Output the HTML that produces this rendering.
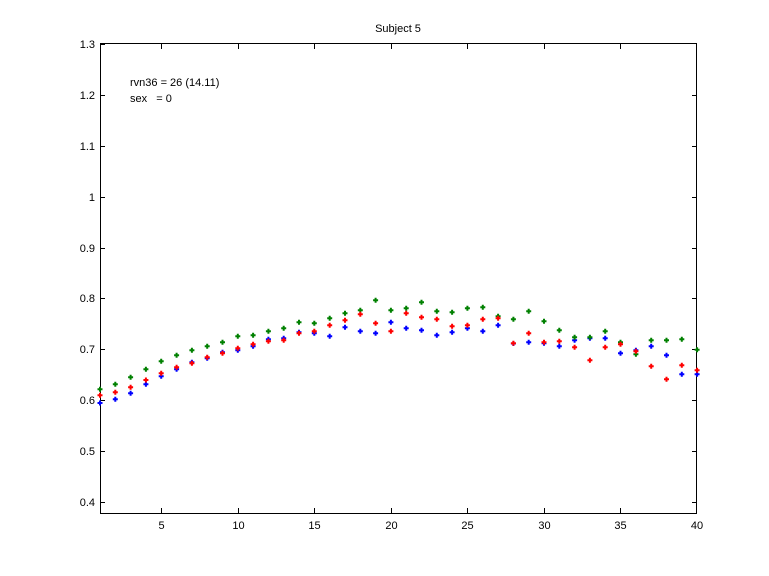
<!DOCTYPE html>
<html><head><style>body{margin:0;background:#fff}svg{display:block}text{font-family:"Liberation Sans",sans-serif;font-size:11px;fill:#000}</style></head><body>
<svg width="769" height="576" xmlns="http://www.w3.org/2000/svg">
<rect width="769" height="576" fill="#fff"/>
<rect x="100.5" y="43.5" width="596" height="470" fill="#fff" stroke="#000" stroke-width="1"/>
<path stroke="#000" stroke-width="1" fill="none" d="M161.5 513v-5M238.5 513v-5M314.5 513v-5M391.5 513v-5M467.5 513v-5M544.5 513v-5M620.5 513v-5M161.5 44v5M238.5 44v5M314.5 44v5M391.5 44v5M467.5 44v5M544.5 44v5M620.5 44v5
M100 502.5h5M100 451.5h5M100 400.5h5M100 349.5h5M100 298.5h5M100 248.5h5M100 197.5h5M100 146.5h5M100 95.5h5M100 44.5h5
M697 502.5h-5M697 451.5h-5M697 400.5h-5M697 349.5h-5M697 298.5h-5M697 248.5h-5M697 197.5h-5M697 146.5h-5M697 95.5h-5"/>
<text x="398" y="32" text-anchor="middle">Subject 5</text>
<text x="130" y="86">rvn36 = 26 (14.11)</text>
<text x="130" y="102">sex&#160;&#160;&#160;= 0</text>
<g text-anchor="middle">
<text x="161.5" y="529">5</text><text x="238.5" y="529">10</text><text x="314.5" y="529">15</text><text x="391.5" y="529">20</text><text x="467.5" y="529">25</text><text x="544.5" y="529">30</text><text x="620.5" y="529">35</text><text x="697" y="529">40</text>
</g>
<g text-anchor="end">
<text x="95" y="506">0.4</text><text x="95" y="455">0.5</text><text x="95" y="404">0.6</text><text x="95" y="353">0.7</text><text x="95" y="302">0.8</text><text x="95" y="252">0.9</text><text x="95" y="201">1</text><text x="95" y="150">1.1</text><text x="95" y="99">1.2</text><text x="95" y="48">1.3</text>
</g>
<g stroke-width="2" fill="none">
<path stroke="#0000ff" d="M97.5 403h5m-2.5-2.5v5M112.8 399.3h5m-2.5-2.5v5M128.1 393.3h5m-2.5-2.5v5M143.4 384.3h5m-2.5-2.5v5M158.7 376.3h5m-2.5-2.5v5M174.1 369.3h5m-2.5-2.5v5M189.4 362.3h5m-2.5-2.5v5M204.7 358.3h5m-2.5-2.5v5M220 352.3h5m-2.5-2.5v5M235.3 350.3h5m-2.5-2.5v5M250.6 346.3h5m-2.5-2.5v5M265.9 339.3h5m-2.5-2.5v5M281.2 338.3h5m-2.5-2.5v5M296.5 332.3h5m-2.5-2.5v5M311.8 333.3h5m-2.5-2.5v5M327.2 336.3h5m-2.5-2.5v5M342.5 327.3h5m-2.5-2.5v5M357.8 331.3h5m-2.5-2.5v5M373.1 333.3h5m-2.5-2.5v5M388.4 322.3h5m-2.5-2.5v5M403.7 328.3h5m-2.5-2.5v5M419 330.3h5m-2.5-2.5v5M434.3 335.3h5m-2.5-2.5v5M449.6 332.3h5m-2.5-2.5v5M464.9 328.3h5m-2.5-2.5v5M480.3 331.3h5m-2.5-2.5v5M495.6 325.3h5m-2.5-2.5v5M510.9 343.5h5m-2.5-2.5v5M526.2 342.3h5m-2.5-2.5v5M541.5 343.3h5m-2.5-2.5v5M556.8 346.3h5m-2.5-2.5v5M572.1 340.3h5m-2.5-2.5v5M587.4 338.3h5m-2.5-2.5v5M602.7 338.3h5m-2.5-2.5v5M618 353.3h5m-2.5-2.5v5M633.4 350.3h5m-2.5-2.5v5M648.7 346.3h5m-2.5-2.5v5M664 355.3h5m-2.5-2.5v5M679.3 374.3h5m-2.5-2.5v5M694.6 374.3h5m-2.5-2.5v5"/>
<path stroke="#008000" d="M97.5 389.3h5m-2.5-2.5v5M112.8 384.3h5m-2.5-2.5v5M128.1 377.3h5m-2.5-2.5v5M143.4 369.3h5m-2.5-2.5v5M158.7 361.3h5m-2.5-2.5v5M174.1 355.3h5m-2.5-2.5v5M189.4 350.3h5m-2.5-2.5v5M204.7 346.3h5m-2.5-2.5v5M220 342.3h5m-2.5-2.5v5M235.3 336.3h5m-2.5-2.5v5M250.6 335.3h5m-2.5-2.5v5M265.9 331.3h5m-2.5-2.5v5M281.2 328.3h5m-2.5-2.5v5M296.5 322.3h5m-2.5-2.5v5M311.8 323.3h5m-2.5-2.5v5M327.2 318.3h5m-2.5-2.5v5M342.5 313.3h5m-2.5-2.5v5M357.8 310.3h5m-2.5-2.5v5M373.1 300.3h5m-2.5-2.5v5M388.4 310.3h5m-2.5-2.5v5M403.7 308.3h5m-2.5-2.5v5M419 302.3h5m-2.5-2.5v5M434.3 311.3h5m-2.5-2.5v5M449.6 312.3h5m-2.5-2.5v5M464.9 308.3h5m-2.5-2.5v5M480.3 307.3h5m-2.5-2.5v5M495.6 316.3h5m-2.5-2.5v5M510.9 319.3h5m-2.5-2.5v5M526.2 311.3h5m-2.5-2.5v5M541.5 321.3h5m-2.5-2.5v5M556.8 330.3h5m-2.5-2.5v5M572.1 337.3h5m-2.5-2.5v5M587.4 337.3h5m-2.5-2.5v5M602.7 331.3h5m-2.5-2.5v5M618 342.3h5m-2.5-2.5v5M633.4 354.3h5m-2.5-2.5v5M648.7 340.3h5m-2.5-2.5v5M664 340.3h5m-2.5-2.5v5M679.3 339.3h5m-2.5-2.5v5M694.6 349.7h5m-2.5-2.5v5"/>
<path stroke="#ff0000" d="M97.5 395.3h5m-2.5-2.5v5M112.8 392.3h5m-2.5-2.5v5M128.1 387.3h5m-2.5-2.5v5M143.4 380h5m-2.5-2.5v5M158.7 373.3h5m-2.5-2.5v5M174.1 367.3h5m-2.5-2.5v5M189.4 363.3h5m-2.5-2.5v5M204.7 357.3h5m-2.5-2.5v5M220 353.3h5m-2.5-2.5v5M235.3 348.3h5m-2.5-2.5v5M250.6 344.3h5m-2.5-2.5v5M265.9 341.3h5m-2.5-2.5v5M281.2 340.3h5m-2.5-2.5v5M296.5 333.3h5m-2.5-2.5v5M311.8 331.3h5m-2.5-2.5v5M327.2 325.3h5m-2.5-2.5v5M342.5 320.3h5m-2.5-2.5v5M357.8 314.3h5m-2.5-2.5v5M373.1 323.3h5m-2.5-2.5v5M388.4 331.3h5m-2.5-2.5v5M403.7 313.3h5m-2.5-2.5v5M419 317.3h5m-2.5-2.5v5M434.3 319.3h5m-2.5-2.5v5M449.6 326.3h5m-2.5-2.5v5M464.9 325.3h5m-2.5-2.5v5M480.3 319.3h5m-2.5-2.5v5M495.6 318.3h5m-2.5-2.5v5M510.9 343.3h5m-2.5-2.5v5M526.2 333.3h5m-2.5-2.5v5M541.5 342.3h5m-2.5-2.5v5M556.8 341.3h5m-2.5-2.5v5M572.1 347.3h5m-2.5-2.5v5M587.4 360.3h5m-2.5-2.5v5M602.7 347.3h5m-2.5-2.5v5M618 344.3h5m-2.5-2.5v5M633.4 351.3h5m-2.5-2.5v5M648.7 366.3h5m-2.5-2.5v5M664 379.3h5m-2.5-2.5v5M679.3 365.3h5m-2.5-2.5v5M694.6 370.3h5m-2.5-2.5v5"/>
</g>
</svg>
</body></html>
